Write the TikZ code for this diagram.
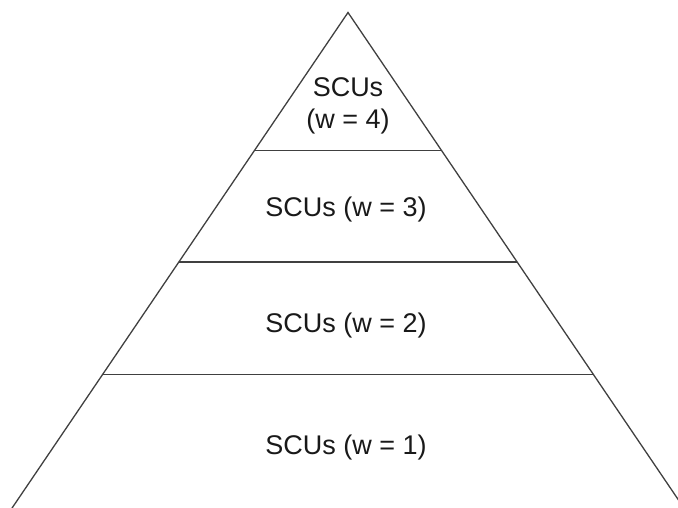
\documentclass[tikz,border=0pt]{standalone}
\usepackage{fontspec}
\setmainfont{Liberation Sans}
\begin{document}
\begin{tikzpicture}[x=1pt,y=-1pt,
  edge/.style={draw=black!75, line width=1.3pt},
  lbl/.style={anchor=base, inner sep=0pt, text=black!90, font=\fontsize{27}{32}\selectfont}]
\useasboundingbox (0,0) rectangle (678,508);
\clip (0,0) rectangle (678,508);
\coordinate (apex) at (348,12.5);
\coordinate (bl) at (5.3,518);
\coordinate (br) at (690.7,518);
\coordinate (l1) at (254.6,150.7);
\coordinate (r1) at (441.4,150.7);
\coordinate (l2) at (179.4,262);
\coordinate (r2) at (516.6,262);
\coordinate (l3) at (103.2,374.5);
\coordinate (r3) at (592.8,374.5);
\draw[edge, line join=miter] (bl) -- (apex) -- (br);
\draw[edge] (l1) -- (r1);
\draw[edge] (l2) -- (r2);
\draw[edge] (l3) -- (r3);
\node[lbl] (t4a) at (348,97) {SCUs};
\node[lbl] (t4b) at (348,129) {(w = 4)};
\node[lbl] (t3) at (346,217) {SCUs (w = 3)};
\node[lbl] (t2) at (346,332) {SCUs (w = 2)};
\node[lbl] (t1) at (346,454) {SCUs (w = 1)};
\end{tikzpicture}
\end{document}
